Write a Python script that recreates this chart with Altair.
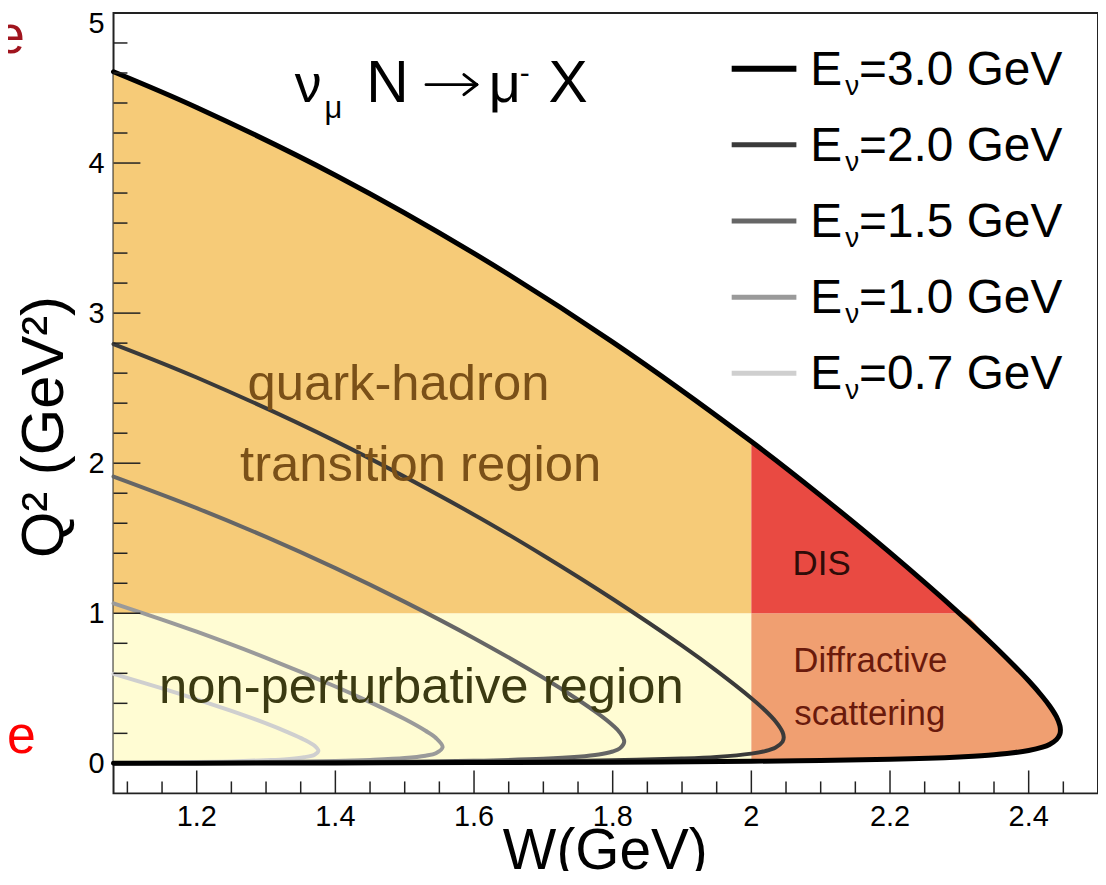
import altair as alt
import pandas as pd

# ---------------- values ----------------
E_LABELS = ["3.0", "2.0", "1.5", "1.0", "0.7"]
LINE_COLORS = ["#000000", "#3a3a3a", "#666666", "#9a9a9a", "#cfcfcf"]
LINE_WIDTHS = [5, 4, 4, 4, 4]

# W (GeV) along each kinematic boundary, with the upper and lower Q^2 (GeV^2)
W_30 = [1.08, 1.2, 1.4, 1.6, 1.8, 2.0, 2.1, 2.2, 2.3, 2.35, 2.4, 2.42, 2.43, 2.44, 2.445, 2.4458]
UP_30 = [4.608, 4.370, 3.919, 3.398, 2.807, 2.144, 1.784, 1.404, 1.000, 0.784, 0.550, 0.444, 0.384, 0.311, 0.252, 0.222]
LO_30 = [0.001, 0.001, 0.003, 0.005, 0.008, 0.014, 0.019, 0.027, 0.043, 0.057, 0.086, 0.108, 0.126, 0.158, 0.195, 0.222]

W_20 = [1.08, 1.2, 1.4, 1.6, 1.7, 1.8, 1.9, 1.95, 2.0, 2.02, 2.035, 2.045, 2.0467]
UP_20 = [2.794, 2.571, 2.147, 1.657, 1.385, 1.095, 0.784, 0.616, 0.434, 0.352, 0.279, 0.208, 0.173]
LO_20 = [0.001, 0.002, 0.005, 0.009, 0.013, 0.020, 0.032, 0.043, 0.065, 0.082, 0.106, 0.144, 0.173]

W_15 = [1.08, 1.2, 1.3, 1.4, 1.5, 1.6, 1.7, 1.75, 1.78, 1.80, 1.81, 1.8166]
UP_15 = [1.911, 1.701, 1.509, 1.301, 1.076, 0.834, 0.570, 0.424, 0.328, 0.254, 0.207, 0.144]
LO_15 = [0.001, 0.003, 0.005, 0.007, 0.011, 0.017, 0.030, 0.044, 0.059, 0.079, 0.099, 0.144]

W_10 = [1.08, 1.15, 1.2, 1.3, 1.4, 1.45, 1.5, 1.53, 1.545, 1.5547]
UP_10 = [1.066, 0.958, 0.877, 0.703, 0.512, 0.408, 0.295, 0.217, 0.169, 0.108]
LO_10 = [0.002, 0.004, 0.005, 0.009, 0.016, 0.023, 0.035, 0.051, 0.068, 0.108]

W_07 = [1.08, 1.15, 1.2, 1.25, 1.3, 1.33, 1.355, 1.37, 1.3755]
UP_07 = [0.596, 0.500, 0.427, 0.349, 0.266, 0.210, 0.158, 0.117, 0.083]
LO_07 = [0.003, 0.006, 0.009, 0.013, 0.021, 0.028, 0.041, 0.058, 0.083]

CURVES = {
    "3.0": (W_30, UP_30, LO_30),
    "2.0": (W_20, UP_20, LO_20),
    "1.5": (W_15, UP_15, LO_15),
    "1.0": (W_10, UP_10, LO_10),
    "0.7": (W_07, UP_07, LO_07),
}

W_SPLIT = 2.0     # resonance side | DIS / diffractive side
Q2_SPLIT = 1.0    # non-perturbative | perturbative

REGION_ORDER = ["nonpert", "qh", "diff", "dis"]
REGION_COLORS = {"nonpert": "#fffcd3", "qh": "#f6cb78", "dis": "#e94a42", "diff": "#f09f71"}

X_MAJOR = [1.2, 1.4, 1.6, 1.8, 2.0, 2.2, 2.4]
X_TICK_LABELS = ["1.2", "1.4", "1.6", "1.8", "2", "2.2", "2.4"]
X_MINOR = [1.1, 1.15, 1.25, 1.3, 1.35, 1.45, 1.5, 1.55, 1.65, 1.7, 1.75, 1.85, 1.9,
           1.95, 2.05, 2.1, 2.15, 2.25, 2.3, 2.35, 2.45]
Y_LABEL_VALUES = [0, 1, 2, 3, 4]
Y_TICK_LABELS = ["0", "1", "2", "3", "4"]
Y_TOP_LABEL_VALUE = [5]
Y_TOP_LABEL = ["5"]
Y_MAJOR = [1, 2, 3, 4]
Y_MINOR = [0.2, 0.4, 0.6, 0.8, 1.2, 1.4, 1.6, 1.8, 2.2, 2.4, 2.6, 2.8, 3.2, 3.4, 3.6,
           3.8, 4.2, 4.4, 4.6, 4.8]

REGION_TEXT = ["quark-hadron", "transition region", "non-perturbative region"]
REGION_TEXT_W = [1.491, 1.523, 1.524]
REGION_TEXT_Q2 = [2.52, 1.98, 0.50]
REGION_TEXT_COL = ["#7a5018", "#7a5018", "#3b3a12"]

SMALL_TEXT = ["DIS", "Diffractive", "scattering"]
SMALL_TEXT_W = [2.0595, 2.0605, 2.062]
SMALL_TEXT_Q2 = [1.33, 0.68, 0.33]
SMALL_TEXT_COL = ["#2e0c08", "#6a1a0c", "#6a1a0c"]

FONT = "Liberation Sans"
W_DOMAIN = [1.08, 2.5]
Q2_DOMAIN = [-0.2, 5]

# ---------------- tables ----------------
xs = alt.Scale(domain=W_DOMAIN, nice=False, zero=False)
ys = alt.Scale(domain=Q2_DOMAIN, nice=False, zero=False)

region_rows = []
for w, u, l in zip(W_30, UP_30, LO_30):
    if w <= W_SPLIT:
        region_rows.append({"W": w, "hi": Q2_SPLIT, "lo": l, "r": "nonpert"})
        region_rows.append({"W": w, "hi": u, "lo": Q2_SPLIT, "r": "qh"})
    if w >= W_SPLIT:
        region_rows.append({"W": w, "hi": min(u, Q2_SPLIT), "lo": l, "r": "diff"})
        if u >= Q2_SPLIT - 1e-3:
            region_rows.append({"W": w, "hi": u, "lo": Q2_SPLIT, "r": "dis"})


def path_df(key):
    W, up, lo = CURVES[key]
    rows = [{"W": w, "Q2": q, "o": i} for i, (w, q) in enumerate(zip(W, up))]
    n = len(W)
    for j, (w, q) in enumerate(zip(W[-2::-1], lo[-2::-1])):
        rows.append({"W": w, "Q2": q, "o": n + j})
    return pd.DataFrame(rows)


def X(field="W"):
    return alt.X(f"{field}:Q", scale=xs, axis=None)


def Y(field="Q2"):
    return alt.Y(f"{field}:Q", scale=ys, axis=None)


# ---------------- layers ----------------
layers = []

# filled regions
for r in REGION_ORDER:
    d = pd.DataFrame([row for row in region_rows if row["r"] == r])
    layers.append(
        alt.Chart(d).mark_area(interpolate="monotone", fill=REGION_COLORS[r],
                               fillOpacity=1, strokeWidth=0)
        .encode(x=X(), y=Y("hi"), y2="lo")
    )

# kinematic boundary curves (lightest first so black sits on top)
for lab, col, wid in list(zip(E_LABELS, LINE_COLORS, LINE_WIDTHS))[::-1]:
    layers.append(
        alt.Chart(path_df(lab)).mark_line(interpolate="catmull-rom", color=col,
                                          strokeWidth=wid, strokeCap="round",
                                          strokeJoin="round")
        .encode(x=X(), y=Y(), order="o:Q")
    )

# ticks drawn inside the frame
TICK_COL = "#222222"
layers.append(alt.Chart(pd.DataFrame({"W": X_MAJOR})).mark_rule(color=TICK_COL, strokeWidth=1.5)
              .encode(x=X(), y=alt.value(784), y2=alt.value(761)))
layers.append(alt.Chart(pd.DataFrame({"W": X_MINOR})).mark_rule(color=TICK_COL, strokeWidth=1.5)
              .encode(x=X(), y=alt.value(784), y2=alt.value(772)))
layers.append(alt.Chart(pd.DataFrame({"Q2": Y_MAJOR})).mark_rule(color=TICK_COL, strokeWidth=1.5)
              .encode(y=Y(), x=alt.value(0), x2=alt.value(27)))
layers.append(alt.Chart(pd.DataFrame({"Q2": Y_MINOR})).mark_rule(color=TICK_COL, strokeWidth=1.5)
              .encode(y=Y(), x=alt.value(0), x2=alt.value(14)))

# tick labels
layers.append(alt.Chart(pd.DataFrame({"W": X_MAJOR, "t": X_TICK_LABELS}))
              .mark_text(font=FONT, fontSize=29, align="center", baseline="alphabetic", color="black")
              .encode(x=X(), y=alt.value(817), text="t:N"))
layers.append(alt.Chart(pd.DataFrame({"Q2": Y_LABEL_VALUES, "t": Y_TICK_LABELS}))
              .mark_text(font=FONT, fontSize=29, align="right", baseline="alphabetic", dy=10,
                         color="black")
              .encode(y=Y(), x=alt.value(-9), text="t:N"))
# the top label sits against the page edge: nudge it down so it stays readable
layers.append(alt.Chart(pd.DataFrame({"Q2": Y_TOP_LABEL_VALUE, "t": Y_TOP_LABEL}))
              .mark_text(font=FONT, fontSize=29, align="right", baseline="alphabetic", dy=20,
                         color="black")
              .encode(y=Y(), x=alt.value(-9), text="t:N"))

# region labels
reg_df = pd.DataFrame({"W": REGION_TEXT_W, "Q2": REGION_TEXT_Q2, "t": REGION_TEXT, "c": REGION_TEXT_COL})
layers.append(alt.Chart(reg_df).mark_text(font=FONT, fontSize=51, align="center", baseline="middle")
              .encode(x=X(), y=Y(), text="t:N", color=alt.Color("c:N", scale=None)))
sm_df = pd.DataFrame({"W": SMALL_TEXT_W, "Q2": SMALL_TEXT_Q2, "t": SMALL_TEXT, "c": SMALL_TEXT_COL})
layers.append(alt.Chart(sm_df).mark_text(font=FONT, fontSize=35, align="left", baseline="middle")
              .encode(x=X(), y=Y(), text="t:N", color=alt.Color("c:N", scale=None)))

one = alt.Data(values=[{"a": 1}])


def label(txt, x, y, size, color="black", align="left", baseline="alphabetic", font=FONT,
          angle=0):
    return alt.Chart(one).mark_text(text=txt, font=font, fontSize=size, color=color,
                                    align=align, baseline=baseline, angle=angle).encode(
        x=alt.value(x), y=alt.value(y))


def seg(x1, y1, x2, y2, width=3, color="black"):
    return alt.Chart(one).mark_rule(color=color, strokeWidth=width, strokeCap="round").encode(
        x=alt.value(x1), y=alt.value(y1), x2=alt.value(x2), y2=alt.value(y2))


# axis titles
layers.append(label("W(GeV)", 494, 843, 57, align="center", baseline="middle"))
layers.append(label("Q² (GeV²)", -69, 416, 60, align="center", baseline="middle", angle=270))

# reaction title  nu_mu N -> mu^- X
layers += [
    label("ν", 182, 89, 54),
    label("μ", 212, 106, 31),
    label("N", 254, 89, 59),
    seg(314, 72, 365, 72),
    seg(352, 62, 365, 72),
    seg(352, 82, 365, 72),
    label("μ", 377, 89, 56),
    label("-", 408, 70, 30),
    label("X", 437, 89, 59),
]

# legend
for i, (lab, col, wid) in enumerate(zip(E_LABELS, LINE_COLORS, LINE_WIDTHS)):
    yb = 72 + 76.5 * i
    layers.append(alt.Chart(one).mark_rule(color=col, strokeWidth=wid + 1)
                  .encode(x=alt.value(621), x2=alt.value(686), y=alt.value(yb - 16)))
    layers.append(label("E", 700, yb, 48))
    layers.append(label("ν", 735, yb + 10, 28))
    layers.append(label("=" + lab + " GeV", 749, yb, 48))

# stray slide letters at the left edge
layers.append(label("e", -118, 40, 52, color="#a0141e"))
layers.append(label("e", -107, 743, 52, color="#ff0000"))

chart = alt.layer(*layers).properties(
    width=989, height=784,
    padding={"left": 106, "top": 3, "right": 0, "bottom": 76},
    autosize=alt.AutoSizeParams(type="none"),
    background="white",
).configure_view(stroke="#222222", strokeWidth=2)

chart.save("out.html", embed_options={"renderer": "svg", "actions": False})
